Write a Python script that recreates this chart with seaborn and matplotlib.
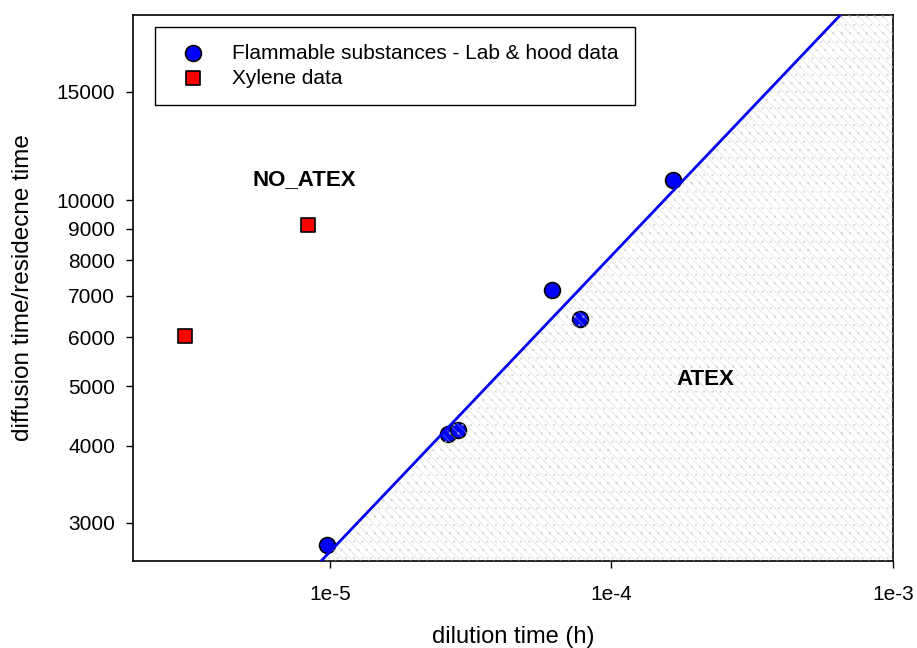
import matplotlib
matplotlib.use("Agg")
import matplotlib.pyplot as plt
import seaborn as sns
import pandas as pd

# -----------------------------
# Data
# -----------------------------
flam_x = [9.8e-6, 2.63e-5, 2.85e-5, 6.17e-5, 7.7e-5, 1.66e-4]
flam_y = [2760, 4180, 4240, 7150, 6420, 10800]

xyl_x = [3.07e-6, 8.35e-6]
xyl_y = [6020, 9110]

# ATEX / NO_ATEX boundary line
bound_x = [9.3e-6, 6.5e-4]
bound_y = [2600, 20000]

x_lim = [2e-6, 1e-3]
y_lim = [2600, 20000]
x_ticks = [1e-5, 1e-4, 1e-3]
x_tick_labels = ["1e-5", "1e-4", "1e-3"]
y_ticks = [3000, 4000, 5000, 6000, 7000, 8000, 9000, 10000, 15000]

flam = pd.DataFrame({"x": flam_x, "y": flam_y})
xyl = pd.DataFrame({"x": xyl_x, "y": xyl_y})
bound = pd.DataFrame({"x": bound_x, "y": bound_y})

sns.set_style("ticks")
plt.rcParams["font.family"] = ["Liberation Sans", "DejaVu Sans"]
plt.rcParams["text.color"] = "black"
plt.rcParams["axes.labelcolor"] = "black"
plt.rcParams["xtick.color"] = "black"
plt.rcParams["ytick.color"] = "black"
plt.rcParams["hatch.linewidth"] = 0.5

hatch_col = (0.78, 0.78, 0.78, 0.55)

fig = plt.figure(figsize=(9.17, 6.48), dpi=100)
ax = fig.add_axes([0.145, 0.134, 0.829, 0.843])
ax.set_xscale("log")
ax.set_yscale("log")

# -----------------------------
# Points, hatched ATEX region over them, boundary line on top
# -----------------------------
sns.scatterplot(data=flam, x="x", y="y", marker="o", s=130, color="#0000ff",
                edgecolor="black", linewidth=1.2, ax=ax, zorder=3,
                label="Flammable substances - Lab & hood data")
sns.scatterplot(data=xyl, x="x", y="y", marker="s", s=90, color="#ff0000",
                edgecolor="black", linewidth=1.2, ax=ax, zorder=3,
                label="Xylene data")

plt.rcParams["hatch.color"] = hatch_col
ax.fill_between(bound_x + [x_lim[1]], [y_lim[0]] * 3, bound_y + [y_lim[1]],
                facecolor="none", edgecolor=hatch_col, hatch="\\\\\\\\..",
                linewidth=0, zorder=3.5)

sns.lineplot(data=bound, x="x", y="y", color="#0000ee", lw=2, ax=ax, zorder=4)

ax.text(1e-5 * 10 ** (-0.09), 10800, "NO_ATEX", fontsize=16, fontweight="bold",
        ha="center", va="center")
ax.text(10 ** (-3.667), 5130, "ATEX", fontsize=16, fontweight="bold",
        ha="center", va="center", zorder=5)

ax.set_xlim(x_lim)
ax.set_ylim(y_lim)
ax.set_xticks(x_ticks)
ax.set_xticklabels(x_tick_labels)
ax.xaxis.set_minor_locator(matplotlib.ticker.NullLocator())
ax.set_yticks(y_ticks)
ax.set_yticklabels([str(v) for v in y_ticks])
ax.yaxis.set_minor_locator(matplotlib.ticker.NullLocator())
ax.tick_params(axis="both", labelsize=15, length=5, width=1, direction="out")
ax.tick_params(axis="x", pad=12)
ax.tick_params(axis="y", pad=8)

for sp in ax.spines.values():
    sp.set_linewidth(1.2)
    sp.set_color("black")

ax.set_xlabel("dilution time (h)", fontsize=17, labelpad=16)
ax.set_ylabel("diffusion time/residecne time", fontsize=17.5, labelpad=16)

leg = ax.legend(loc="upper left", bbox_to_anchor=(0.029, 0.978), fontsize=15,
                frameon=True, fancybox=False, framealpha=1, edgecolor="black",
                borderpad=0.8, handletextpad=0.9, labelspacing=0.3,
                borderaxespad=0, markerscale=1.0)
leg.get_frame().set_linewidth(1.0)
leg.set_zorder(6)

plt.savefig("out.png", dpi=100)
